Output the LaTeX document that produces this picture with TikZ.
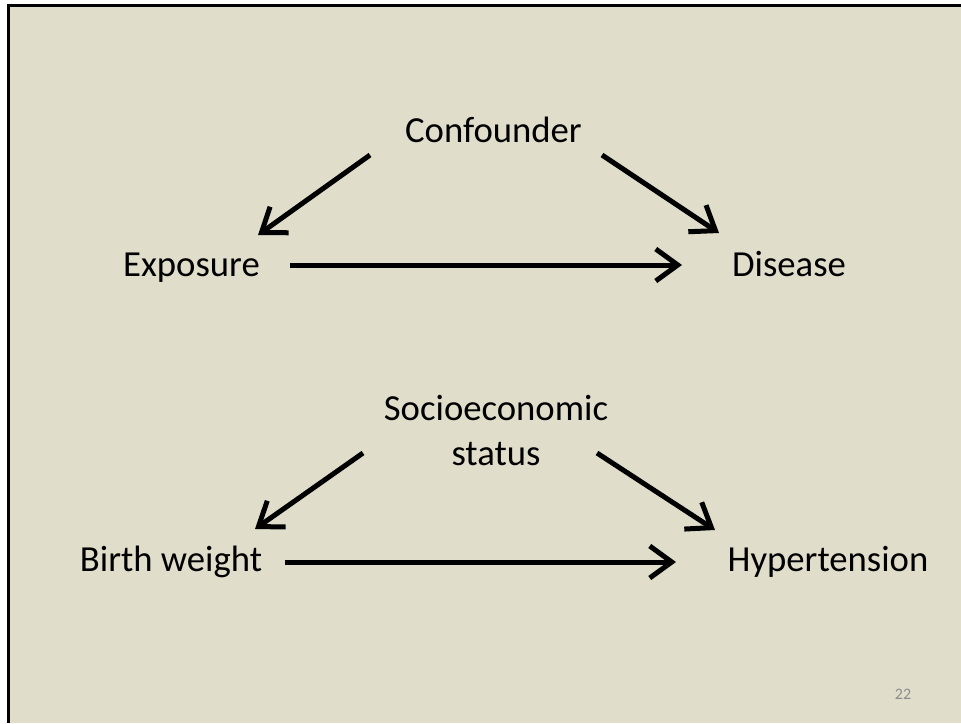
\documentclass[tikz,border=0pt]{standalone}
\usepackage{fontspec}
\setmainfont{Carlito}
\usetikzlibrary{arrows.meta}
\definecolor{slidebg}{RGB}{224,221,203}
\definecolor{pagenum}{RGB}{140,140,140}
\tikzset{
  lbl/.style={anchor=base, inner sep=0pt, font=\fontsize{36.7}{45}\selectfont, text=black},
  arr/.style={line width=5pt, -{Straight Barb[length=22pt,width=32pt,line width=5pt]}}
}
\begin{document}
\begin{tikzpicture}[x=1pt,y=-1pt]
\useasboundingbox (0,0) rectangle (961,723);
\fill[white] (0,0) rectangle (961,723);
\fill[slidebg] (8,5) rectangle (961,723);
\draw[line width=3pt, black] (8.5,723) -- (8.5,5.5) -- (961,5.5);

\node[lbl] (conf) at (493.5,142) {Confounder};
\node[lbl] (expo) at (191.5,276) {Exposure};
\node[lbl] (dis) at (789,276) {Disease};
\node[lbl, align=center] (ses) at (496,465) {Socioeconomic\\status};
\node[lbl] (bw) at (171,571) {Birth weight};
\node[lbl] (ht) at (828,571) {Hypertension};
\node[anchor=base, inner sep=0pt, font=\fontsize{16}{19}\selectfont, text=pagenum] (pg) at (903,699) {22};

\coordinate (c1s) at (370,155); \coordinate (c1e) at (258,235);
\coordinate (c2s) at (602,155); \coordinate (c2e) at (719,233);
\coordinate (c3s) at (290,265); \coordinate (c3e) at (682,265);
\coordinate (c4s) at (363,453); \coordinate (c4e) at (255,529);
\coordinate (c5s) at (597,453); \coordinate (c5e) at (715,530);
\coordinate (c6s) at (285,562); \coordinate (c6e) at (676,562);

\draw[arr] (c1s) -- (c1e);
\draw[arr] (c2s) -- (c2e);
\draw[arr] (c3s) -- (c3e);
\draw[arr] (c4s) -- (c4e);
\draw[arr] (c5s) -- (c5e);
\draw[arr] (c6s) -- (c6e);
\end{tikzpicture}
\end{document}
